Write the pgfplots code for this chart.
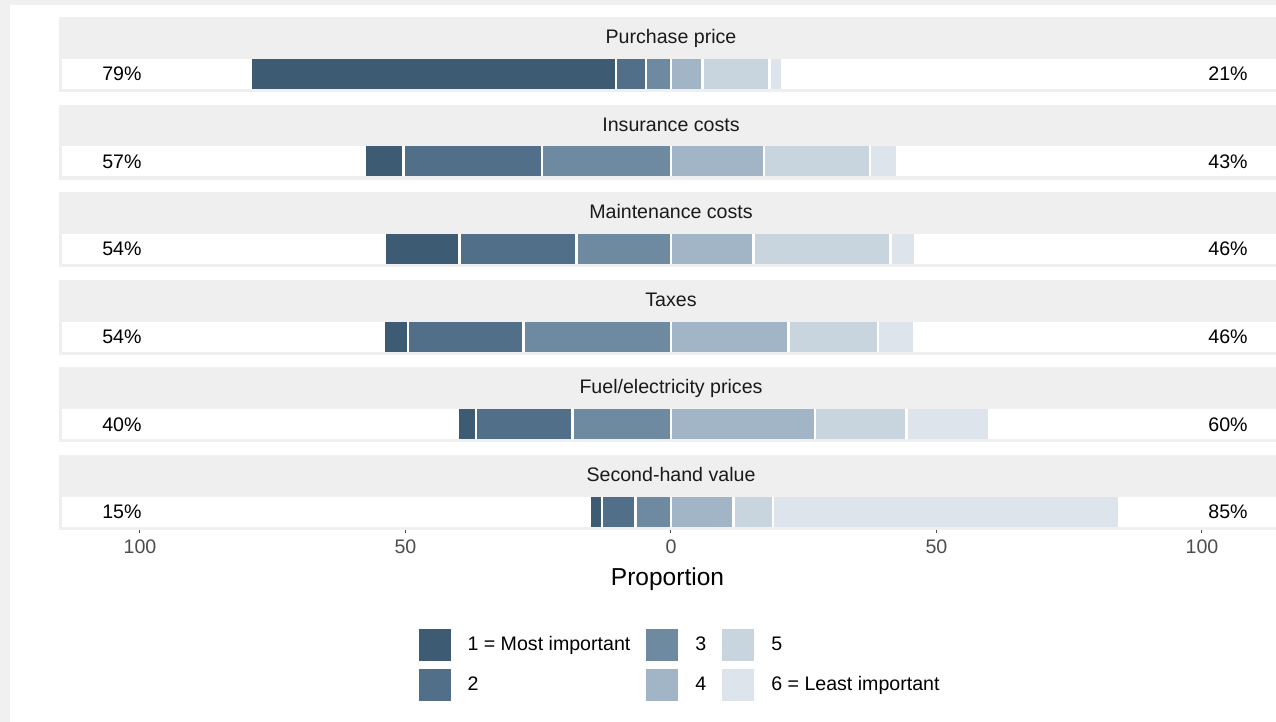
\documentclass[border=0pt]{standalone}
\usepackage{pgfplots}
\usepackage{pgfplotstable}
\pgfplotsset{compat=1.18}
\usepackage{fontspec}
\setmainfont{Liberation Sans}

\definecolor{pageGrey}{HTML}{F0F0F0}
\definecolor{stripGrey}{HTML}{EFEFEF}
\definecolor{stripText}{HTML}{1A1A1A}
\definecolor{tickGrey}{HTML}{4D4D4D}
\definecolor{c1}{HTML}{3E5B74}
\definecolor{c2}{HTML}{516F88}
\definecolor{c3}{HTML}{6E8AA0}
\definecolor{c4}{HTML}{A2B5C6}
\definecolor{c5}{HTML}{C8D5DF}
\definecolor{c6}{HTML}{DEE4EB}

\newcommand\basefont{\fontsize{9.8}{11.8}\selectfont}
\newcommand\titlefont{\fontsize{12.25}{14.5}\selectfont}

% share of each rank per item (f = facet row, top to bottom)
\pgfplotstableread{
f s1   s2   s3   s4   s5   s6
0 68.8 5.65 4.7  6.0  12.6 2.4
1 7.2  26.1 24.3 17.5 20.0 5.1
2 14.1 22.0 17.8 15.5 25.8 4.8
3 4.6  21.7 27.8 22.1 16.9 6.9
4 3.4  18.2 18.5 27.1 17.3 15.5
5 2.3  6.3  6.7  11.8 7.4  65.3
}\likert

\pgfplotsset{
  likert frame/.style={
    at={(29.5pt,-8.5pt)}, anchor=north west,
    scale only axis, width=608.5pt, height=256.5pt,
    xmin=-115.25, xmax=113.94,
    ymin=-0.651, ymax=5.205, y dir=reverse,
    xbar stacked, bar width=0.38,
    every axis plot/.append style={draw=white, line width=1.35pt},
  },
}
\tikzset{
  stripLabel/.style={font=\basefont, text=stripText, text height=7pt, text depth=0pt},
  pctLabel/.style={font=\basefont},
}

\begin{document}
\begin{tikzpicture}
\path[use as bounding box] (0,0) rectangle (638pt,-361pt);
\fill[pageGrey] (0,0) rectangle (638pt,-361pt);
\fill[white] (5pt,-2.5pt) rectangle (638pt,-361pt);

\begin{axis}[
  likert frame,
  axis x line*=bottom, axis y line=none,
  x axis line style={draw=none},
  ytick=\empty,
  xtick={-100,-50,0,50,100}, xticklabels={100,50,0,50,100},
  tick align=outside, major tick length=1.5pt,
  xtick style={draw=tickGrey, line width=0.5pt},
  xticklabel style={font=\basefont, text=tickGrey},
  /pgf/number format/assume math mode=true,
  xlabel={Proportion}, xlabel style={font=\titlefont},
  legend columns=3, legend cell align=left,
  legend image code/.code={\fill[#1, draw=none] (0pt,-8pt) rectangle (16pt,8pt);},
  legend style={at={(0.5095,-0.263)}, anchor=center, draw=none, fill=none,
    font=\basefont, row sep=4pt, nodes={inner sep=0pt},
    /tikz/every odd column/.append style={column sep=8.5pt},
    /tikz/every even column/.append style={column sep=8pt}},
]
\addlegendimage{fill=c1}\addlegendentry{1 = Most important}
\addlegendimage{fill=c3}\addlegendentry{3}
\addlegendimage{fill=c5}\addlegendentry{5}
\addlegendimage{fill=c2}\addlegendentry{2}
\addlegendimage{fill=c4}\addlegendentry{4}
\addlegendimage{fill=c6}\addlegendentry{6 = Least important}

\addplot[fill=c3, forget plot] table[x expr=-\thisrow{s3}, y=f] {\likert};
\addplot[fill=c2, forget plot] table[x expr=-\thisrow{s2}, y=f] {\likert};
\addplot[fill=c1, forget plot] table[x expr=-\thisrow{s1}, y=f] {\likert};

\node[pctLabel] at (axis cs:-103.4,0) {79\%};
\node[pctLabel] at (axis cs:-103.4,1) {57\%};
\node[pctLabel] at (axis cs:-103.4,2) {54\%};
\node[pctLabel] at (axis cs:-103.4,3) {54\%};
\node[pctLabel] at (axis cs:-103.4,4) {40\%};
\node[pctLabel] at (axis cs:-103.4,5) {15\%};
\node[pctLabel] at (axis cs:104.9,0) {21\%};
\node[pctLabel] at (axis cs:104.9,1) {43\%};
\node[pctLabel] at (axis cs:104.9,2) {46\%};
\node[pctLabel] at (axis cs:104.9,3) {46\%};
\node[pctLabel] at (axis cs:104.9,4) {60\%};
\node[pctLabel] at (axis cs:104.9,5) {85\%};
\end{axis}

\begin{axis}[likert frame, hide axis]
\addplot[fill=c4] table[x=s4, y=f] {\likert};
\addplot[fill=c5] table[x=s5, y=f] {\likert};
\addplot[fill=c6] table[x=s6, y=f] {\likert};
\end{axis}

% facet strips and grey panel borders, drawn over the bar outlines
\foreach \i in {0,...,5} {
  \fill[stripGrey] (29.5pt,{-8.5pt-43.8pt*\i}) rectangle (640pt,{-29.35pt-43.8pt*\i});
  \fill[stripGrey] (29.5pt,{-44.35pt-43.8pt*\i}) rectangle (640pt,{-46pt-43.8pt*\i});
  \fill[stripGrey] (29.5pt,{-29pt-43.8pt*\i}) rectangle (31pt,{-44.5pt-43.8pt*\i});
}
\foreach \i/\t in {0/{Purchase price}, 1/{Insurance costs}, 2/{Maintenance costs},
                   3/{Taxes}, 4/{Fuel/electricity prices}, 5/{Second-hand value}} {
  \node[stripLabel] at (335.5pt,{-18.25pt-43.8pt*\i}) {\t};
}
\end{tikzpicture}
\end{document}
